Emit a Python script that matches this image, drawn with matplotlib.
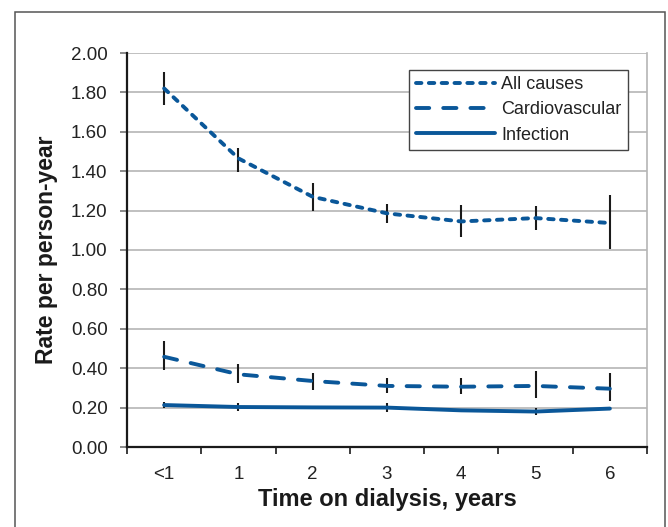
import numpy as np
import matplotlib
matplotlib.use("Agg")
from matplotlib import pyplot as plt
from matplotlib.patches import Rectangle
import matplotlib.ticker as ticker

plt.rcParams.update({
    "font.family": ["Liberation Sans", "DejaVu Sans"],
    "axes.linewidth": 1.5,
})

# values
categories = ["<1", "1", "2", "3", "4", "5", "6"]
all_causes = [1.82, 1.465, 1.27, 1.186, 1.145, 1.162, 1.137]
all_lo = [1.735, 1.398, 1.199, 1.135, 1.064, 1.101, 1.005]
all_hi = [1.902, 1.516, 1.338, 1.233, 1.228, 1.223, 1.279]
cardio = [0.458, 0.369, 0.335, 0.310, 0.306, 0.310, 0.296]
cardio_lo = [0.391, 0.327, 0.289, 0.276, 0.271, 0.249, 0.233]
cardio_hi = [0.536, 0.420, 0.378, 0.349, 0.352, 0.388, 0.378]
infection = [0.213, 0.203, 0.201, 0.200, 0.186, 0.180, 0.195]
inf_lo = [0.196, 0.184, 0.193, 0.180, 0.178, 0.162, 0.187]
inf_hi = [0.230, 0.222, 0.209, 0.222, 0.194, 0.196, 0.203]

blue = "#0a5799"
x = np.arange(len(categories))

fig = plt.figure(figsize=(6.68, 5.27), dpi=100)
ax = fig.add_axes([127 / 668, 80 / 527, 520 / 668, 394 / 527])

# outer frame around the whole figure
fig.add_artist(Rectangle((15 / 668, -0.02), 650 / 668, (515 / 527) + 0.02,
                         transform=fig.transFigure, fill=False,
                         edgecolor="#555555", linewidth=1.1))

series = [
    ("All causes", all_causes, all_lo, all_hi, (1.4, 1.9)),
    ("Cardiovascular", cardio, cardio_lo, cardio_hi, (3.4, 3.6)),
    ("Infection", infection, inf_lo, inf_hi, None),
]

for label, vals, lo, hi, dash in series:
    vals = np.array(vals)
    yerr = [vals - np.array(lo), np.array(hi) - vals]
    ax.errorbar(x, vals, yerr=yerr, fmt="none", ecolor="#1a1a1a",
                elinewidth=1.5, capsize=0, zorder=3)
    line, = ax.plot(x, vals, color=blue, linewidth=2.8, label=label,
                    solid_capstyle="round", dash_capstyle="round", zorder=4)
    if dash is not None:
        line.set_dashes(dash)

ax.set_xlim(-0.5, 6.5)
ax.set_ylim(0, 2.0)

ax.yaxis.set_major_locator(ticker.MultipleLocator(0.2))
ax.yaxis.set_major_formatter(ticker.FormatStrFormatter("%.2f"))
ax.grid(axis="y", color="#b5b5b5", linewidth=1.2, zorder=0)
ax.set_axisbelow(True)

# ticks between categories, labels centred on categories
ax.xaxis.set_major_locator(ticker.FixedLocator(np.arange(-0.5, 7.0, 1.0)))
ax.xaxis.set_major_formatter(ticker.NullFormatter())
ax.xaxis.set_minor_locator(ticker.FixedLocator(x))
ax.xaxis.set_minor_formatter(ticker.FixedFormatter(categories))
ax.tick_params(axis="x", which="major", length=5, width=1.2, color="#1a1a1a")
ax.tick_params(axis="x", which="minor", length=0, pad=14, labelsize=13.5,
               labelcolor="#222222")
ax.tick_params(axis="y", length=5, width=1.2, color="#777777", pad=9,
               labelsize=13.5, labelcolor="#222222")

for side in ["left", "bottom"]:
    ax.spines[side].set_color("#1a1a1a")
    ax.spines[side].set_linewidth(1.6)
ax.spines["top"].set_visible(False)
ax.spines["right"].set_color("#b5b5b5")
ax.spines["right"].set_linewidth(1.2)

ax.set_xlabel("Time on dialysis, years", fontsize=17, fontweight="bold",
              color="#1a1a1a", labelpad=3)
ax.set_ylabel("Rate per person-year", fontsize=16.5, fontweight="bold",
              color="#1a1a1a", labelpad=9)

leg = ax.legend(loc="upper right", bbox_to_anchor=(501 / 520, 377 / 394),
                borderaxespad=0, fontsize=13, handlelength=4.4,
                handletextpad=0.35, labelspacing=0.45, borderpad=0.35,
                fancybox=False, framealpha=1, edgecolor="#444444")
leg.get_frame().set_linewidth(1.0)
for t in leg.get_texts():
    t.set_color("#222222")

fig.savefig("out.png", dpi=100)
